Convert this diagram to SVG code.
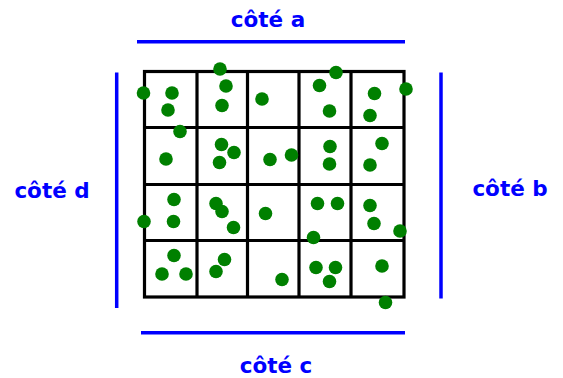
<svg xmlns="http://www.w3.org/2000/svg" width="563" height="378" viewBox="0 0 563 378">
<style>
.side{stroke:#0000FF;stroke-width:3.5;fill:none}
.grid{stroke:#000;stroke-width:3.2;fill:none}
.lbl{font-family:"DejaVu Sans",Verdana,sans-serif;font-weight:bold;font-size:21.5px;fill:#0000FF;text-anchor:middle}
.dot{fill:#008000}
circle{r:6.8px}
</style>
<rect width="563" height="378" fill="#fff"/>
<g id="grid" class="grid">
<rect x="144.5" y="71.5" width="259.5" height="225.5"/>
<path d="M197 71.5V297M247.5 71.5V297M299 71.5V297M351 71.5V297M144.5 127.5H404M144.5 184.5H404M144.5 240.5H404"/>
</g>
<g id="side-a"><line class="side" x1="137" y1="41.7" x2="405" y2="41.7"/><text class="lbl" x="268" y="26.5">côté a</text></g>
<g id="side-b"><line class="side" x1="441" y1="72.5" x2="441" y2="298.5"/><text class="lbl" x="510" y="195.5">côté b</text></g>
<g id="side-c"><line class="side" x1="141" y1="332.7" x2="405" y2="332.7"/><text class="lbl" x="276" y="372.5">côté c</text></g>
<g id="side-d"><line class="side" x1="116.7" y1="72.5" x2="116.7" y2="308"/><text class="lbl" x="52" y="197.5">côté d</text></g>
<g id="dots" class="dot">
<circle cx="143.5" cy="93" r="6.8"/><circle cx="172" cy="93" r="6.8"/><circle cx="168" cy="110" r="6.8"/><circle cx="220" cy="69" r="6.8"/><circle cx="226" cy="86" r="6.8"/><circle cx="222" cy="105.5" r="6.8"/><circle cx="262" cy="99" r="6.8"/><circle cx="319.5" cy="85.5" r="6.8"/><circle cx="336" cy="72.5" r="6.8"/><circle cx="329.5" cy="111" r="6.8"/><circle cx="374.5" cy="93.5" r="6.8"/><circle cx="370" cy="115.5" r="6.8"/><circle cx="406" cy="89" r="6.8"/>
<circle cx="180" cy="131.5" r="6.8"/><circle cx="166" cy="159" r="6.8"/><circle cx="221.5" cy="144.5" r="6.8"/><circle cx="234" cy="152.5" r="6.8"/><circle cx="219.5" cy="162.5" r="6.8"/><circle cx="270" cy="159.5" r="6.8"/><circle cx="291.5" cy="155" r="6.8"/><circle cx="330" cy="146.5" r="6.8"/><circle cx="329.5" cy="164" r="6.8"/><circle cx="382" cy="143.5" r="6.8"/><circle cx="370" cy="165" r="6.8"/>
<circle cx="174" cy="199.5" r="6.8"/><circle cx="144" cy="221.5" r="6.8"/><circle cx="173.5" cy="221.5" r="6.8"/><circle cx="216" cy="203.5" r="6.8"/><circle cx="222" cy="211.5" r="6.8"/><circle cx="233.5" cy="227.5" r="6.8"/><circle cx="265.5" cy="213.5" r="6.8"/><circle cx="317.5" cy="203.5" r="6.8"/><circle cx="337.5" cy="203.5" r="6.8"/><circle cx="370" cy="205.5" r="6.8"/><circle cx="374" cy="223.5" r="6.8"/><circle cx="400" cy="231" r="6.8"/><circle cx="313.5" cy="237.5" r="6.8"/>
<circle cx="174" cy="255.5" r="6.8"/><circle cx="162" cy="274" r="6.8"/><circle cx="186" cy="274" r="6.8"/><circle cx="224.5" cy="259.5" r="6.8"/><circle cx="216" cy="271.5" r="6.8"/><circle cx="282" cy="279.5" r="6.8"/><circle cx="316" cy="267.5" r="6.8"/><circle cx="335.5" cy="267.5" r="6.8"/><circle cx="329.5" cy="281.5" r="6.8"/><circle cx="382" cy="266" r="6.8"/><circle cx="385.5" cy="302.5" r="6.8"/>
</g>
</svg>
